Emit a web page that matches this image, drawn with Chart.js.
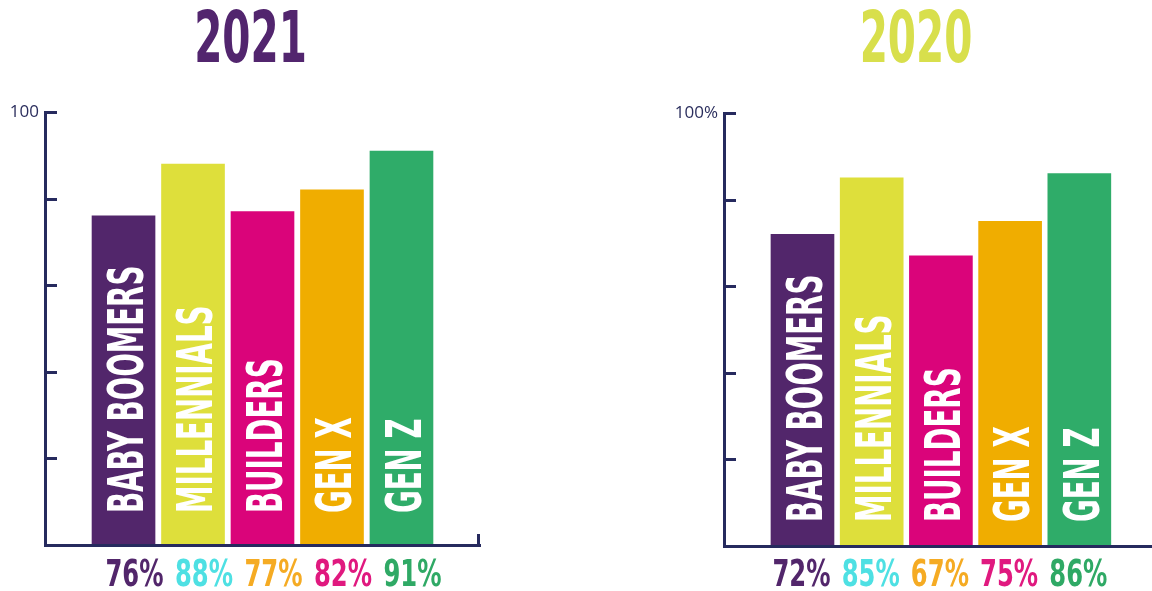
<!DOCTYPE html>
<html>
<head>
<meta charset="utf-8">
<title>Generations 2021 vs 2020</title>
<script src="https://cdn.jsdelivr.net/npm/chart.js@4.4.1/dist/chart.umd.min.js"></script>
<style>
  html, body { margin: 0; padding: 0; background: #ffffff; width: 1152px; height: 591px; overflow: hidden; }
  .panel { position: absolute; top: 0; height: 591px; }
  #panel2021 { left: 0; width: 501px; }
  #panel2020 { left: 660px; width: 492px; }
  canvas { display: block; }
</style>
</head>
<body>
<div class="panel" id="panel2021"><canvas id="chart2021" width="501" height="591"></canvas></div>
<div class="panel" id="panel2020"><canvas id="chart2020" width="492" height="591"></canvas></div>
<script>
// Generation groups, shown left to right in both panels
const categories = ['BABY BOOMERS', 'MILLENNIALS', 'BUILDERS', 'GEN X', 'GEN Z'];

// Share per generation (%)
const values2021 = [76, 88, 77, 82, 91];
const values2020 = [72, 85, 67, 75, 86];

// Value-axis ticks
const yTicks = [0, 20, 40, 60, 80, 100];

// Palette
const barColors = ['#52266b', '#dedf3b', '#da047a', '#f0ad00', '#2fac69'];
const pctColors = ['#52266b', '#4ee0e3', '#f5ab23', '#e0197f', '#2fa965'];
const axisColor = '#262a5e';

const CONDENSED = "'Liberation Sans Narrow', 'DejaVu Sans Condensed', 'Liberation Sans', sans-serif";

// Draws text squeezed horizontally, optionally rotated to read bottom-to-top
function drawCondensed(ctx, text, x, y, size, squeeze, align, rotate) {
  ctx.save();
  ctx.translate(x, y);
  if (rotate) ctx.rotate(-Math.PI / 2);
  ctx.scale(squeeze, 1);
  ctx.font = 'bold ' + size + 'px ' + CONDENSED;
  ctx.textAlign = align;
  ctx.textBaseline = 'alphabetic';
  ctx.fillText(text, 0, 0);
  ctx.restore();
}

// Titles, inward y tick marks, in-bar names and the percentage row
const decorations = {
  id: 'decorations',
  afterDraw(chart, args, opts) {
    const ctx = chart.ctx;
    const area = chart.chartArea;
    const yScale = chart.scales.y;
    const meta = chart.getDatasetMeta(0);
    const values = chart.data.datasets[0].data;

    ctx.save();
    // short tick marks pointing into the plot
    ctx.strokeStyle = axisColor;
    ctx.lineWidth = 3;
    ctx.lineCap = 'butt';
    yTicks.forEach(v => {
      if (v === yScale.min) return;
      const py = Math.round(yScale.getPixelForValue(v)) + 0.5;
      ctx.beginPath();
      ctx.moveTo(area.left, py);
      ctx.lineTo(area.left + 12, py);
      ctx.stroke();
    });
    // closing stub at the end of the category axis
    if (opts.endCap) {
      const px = area.right - 1.5;
      ctx.beginPath();
      ctx.moveTo(px, area.bottom + 1.5);
      ctx.lineTo(px, area.bottom - 11);
      ctx.stroke();
    }

    // panel title
    ctx.fillStyle = opts.titleColor;
    drawCondensed(ctx, opts.title, chart.width / 2 + opts.titleShift, 62, 72, 0.625, 'center', false);

    // group names inside the bars
    const cap = 0.729 * 50;
    meta.data.forEach((bar, i) => {
      ctx.fillStyle = '#ffffff';
      drawCondensed(ctx, categories[i], bar.x + cap / 2 + 1, area.bottom - opts.nameGap, 50, 0.615, 'left', true);
    });

    // percentage row under the axis
    meta.data.forEach((bar, i) => {
      ctx.fillStyle = pctColors[i];
      drawCondensed(ctx, values[i].y + '%', bar.x + opts.pctShift, 586, 38, 0.71, 'center', false);
    });
    ctx.restore();
  }
};

function buildChart(canvasId, values, cfg) {
  const points = categories.map((c, i) => ({ x: i + 1, y: values[i] }));
  return new Chart(document.getElementById(canvasId), {
    type: 'bar',
    data: {
      datasets: [{
        data: points,
        backgroundColor: barColors,
        borderWidth: 0,
        barThickness: 63
      }]
    },
    options: {
      responsive: false,
      animation: false,
      layout: { padding: cfg.padding },
      plugins: {
        legend: { display: false },
        tooltip: { enabled: false },
        title: { display: false },
        decorations: cfg.deco
      },
      scales: {
        x: {
          type: 'linear',
          offset: false,
          min: cfg.xMin,
          max: cfg.xMax,
          grid: { display: false, drawTicks: false, offset: false },
          ticks: { display: false },
          border: { display: true, color: axisColor, width: 3, z: 1 },
          afterFit: s => { s.height = 0; }
        },
        y: {
          min: 0,
          max: 100,
          grid: { display: false, drawTicks: false },
          border: { display: true, color: axisColor, width: 3, z: 1 },
          afterBuildTicks: s => { s.ticks = yTicks.map(v => ({ value: v })); },
          ticks: {
            padding: 6,
            color: '#2b2e5d',
            font: { family: "'Open Sans', sans-serif", size: 17 },
            callback: v => (v === 100 ? cfg.topLabel : '')
          },
          afterFit: s => { s.width = cfg.yWidth; }
        }
      }
    },
    plugins: [decorations]
  });
}

buildChart('chart2021', values2021, {
  padding: { top: 112, bottom: 46, left: 0, right: 21 },
  xMin: -0.13, xMax: 6.13,
  yWidth: 45,
  topLabel: '100',
  deco: { title: '2021', titleColor: '#52256e', titleShift: 0, endCap: true, nameGap: 32, pctShift: 11 }
});

buildChart('chart2020', values2020, {
  padding: { top: 113, bottom: 45, left: 0, right: 0 },
  xMin: -0.134, xMax: 6.05,
  yWidth: 64,
  topLabel: '100%',
  deco: { title: '2020', titleColor: '#d8df4c', titleShift: 10, endCap: false, nameGap: 24, pctShift: -1 }
});
</script>
</body>
</html>
